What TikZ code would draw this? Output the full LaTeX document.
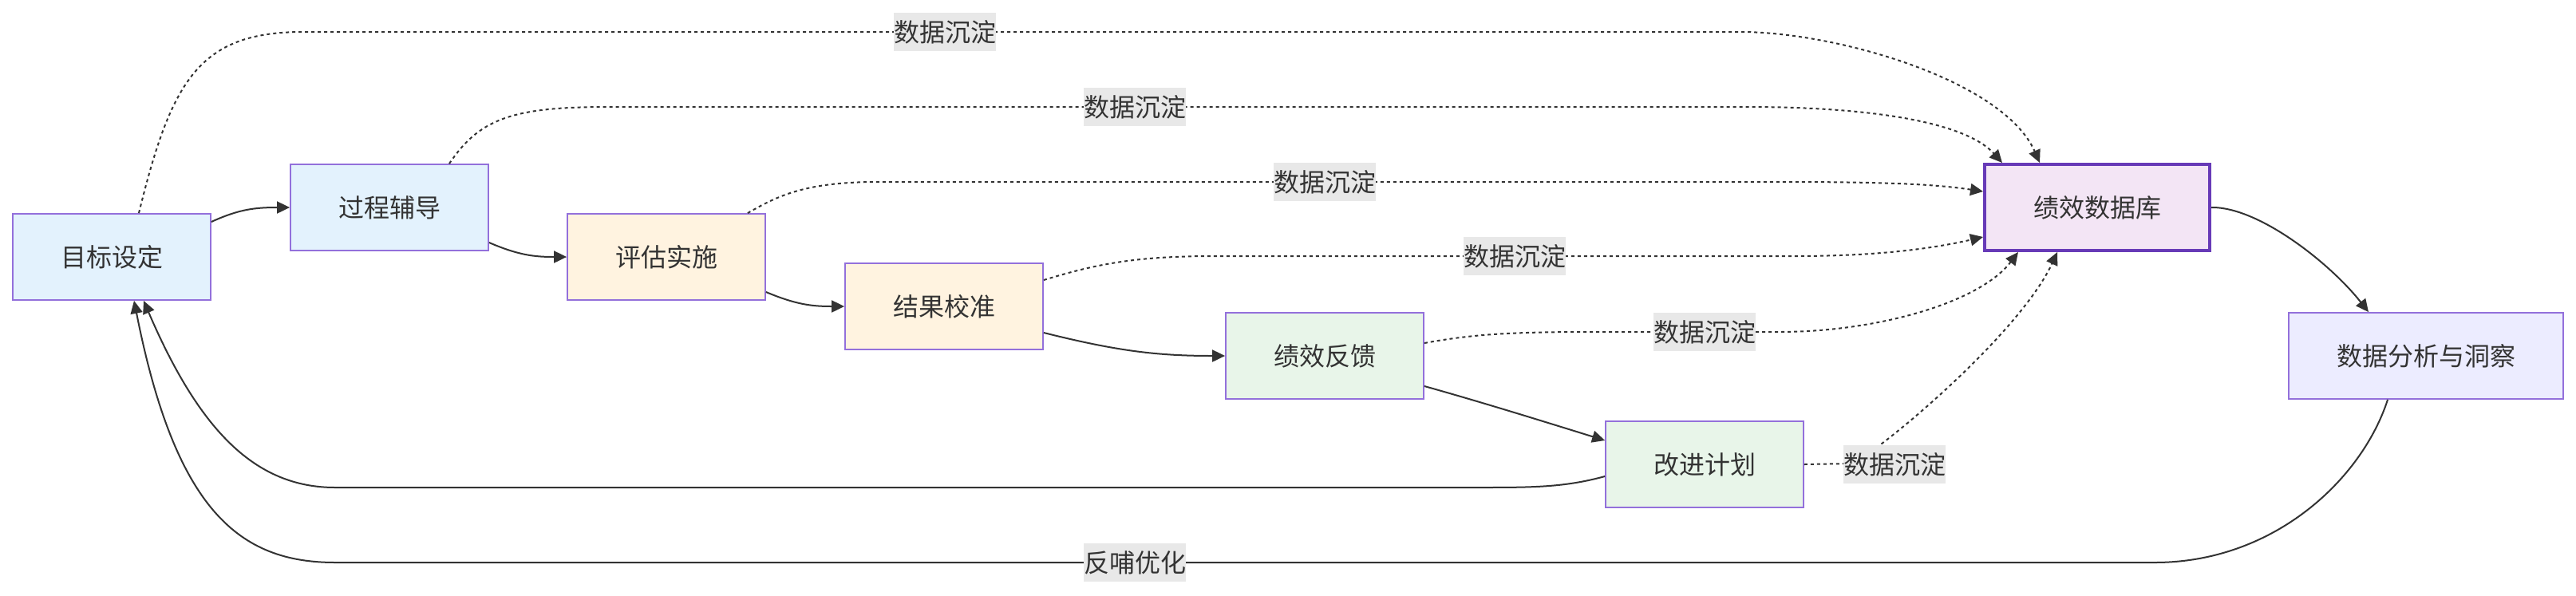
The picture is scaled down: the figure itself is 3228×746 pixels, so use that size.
\documentclass[tikz,border=0pt]{standalone}
\usepackage{fontspec}
\usepackage{tikz}
\usetikzlibrary{arrows.meta}
\newfontfamily\cjk{Noto Sans CJK SC}
\definecolor{boxline}{RGB}{147,112,219}
\definecolor{dbline}{RGB}{103,58,183}
\definecolor{planfill}{RGB}{227,242,253}
\definecolor{runfill}{RGB}{255,243,224}
\definecolor{fixfill}{RGB}{232,245,233}
\definecolor{dbfill}{RGB}{243,229,245}
\definecolor{anafill}{RGB}{236,236,255}
\definecolor{ink}{RGB}{51,51,51}
\definecolor{lblbg}{RGB}{232,232,232}

\begin{document}
\begin{tikzpicture}[x=0.5pt, y=-0.5pt,
  font={\cjk\fontsize{16pt}{19pt}\selectfont},
  stage/.style={draw=boxline, line width=0.9pt, minimum width=124pt,
    minimum height=54pt, inner sep=0pt, text=ink},
  flow/.style={draw=ink, line width=1pt, -{Triangle[length=8pt,width=7.5pt]}},
  sink/.style={flow, dash pattern=on 2pt off 2pt},
  lbl/.style={fill=lblbg, inner xsep=0pt, inner ysep=0pt,
    minimum height=24pt, text=ink}]
  \useasboundingbox (0,0) rectangle (3228,746);
  \node[stage, fill=planfill] (goal) at (140,322) {目标设定};
  \node[stage, fill=planfill] (coach) at (488,260) {过程辅导};
  \node[stage, fill=runfill] (eval) at (835,322) {评估实施};
  \node[stage, fill=runfill] (result) at (1183,384) {结果校准};
  \node[stage, fill=fixfill] (feedback) at (1660,446) {绩效反馈};
  \node[stage, fill=fixfill] (plan) at (2136,582) {改进计划};
  \node[stage, fill=dbfill, draw=dbline, line width=2pt, minimum width=141pt] (db) at (2628,260) {绩效数据库};
  \node[stage, fill=anafill, minimum width=172pt] (ana) at (3040,446) {数据分析与洞察};

  \draw[flow] ([yshift=22pt]goal.east) .. controls (300,262) and (320,260) .. (coach.west);
  \draw[flow] ([yshift=-22pt]coach.east) .. controls (650,320) and (670,322) .. (eval.west);
  \draw[flow] ([yshift=-22pt]eval.east) .. controls (998,382) and (1018,384) .. (result.west);
  \draw[flow] ([yshift=-16.5pt]result.east) .. controls (1400,440) and (1450,446) .. (feedback.west);
  \draw[flow] ([yshift=-19pt]feedback.east) .. controls (1860,505) and (1940,530) .. ([yshift=15pt]plan.west);
  \draw[flow] ([yshift=-7.5pt]plan.west) .. controls (1960,611) and (1920,611) .. (1850,611)
        -- (420,611) .. controls (320,611) and (250,540) .. ([xshift=20pt]goal.south);
  \draw[flow] ([xshift=-24pt]ana.south) .. controls (2960,600) and (2850,705) .. (2700,705)
        -- (420,705) .. controls (300,705) and (220,640) .. ([xshift=14pt]goal.south);
  \draw[flow] (db.east) .. controls (2830,259) and (2920,330) .. ([xshift=-36pt]ana.north);

  \draw[sink] ([xshift=17pt]goal.north) .. controls (215,100) and (250,40) .. (380,40)
        -- (2181,40) .. controls (2300,40) and (2510,100) .. ([xshift=-36pt]db.north);
  \draw[sink] ([xshift=37.5pt]coach.north) .. controls (600,150) and (640,134) .. (760,134)
        -- (2191,134) .. controls (2330,134) and (2460,150) .. ([xshift=-59.5pt]db.north);
  \draw[sink] ([xshift=-11.5pt]eval.north east) .. controls (975,245) and (1010,228) .. (1100,228)
        -- (2229,228) .. controls (2350,228) and (2420,230) .. ([yshift=10pt]db.west);
  \draw[sink] ([yshift=16.5pt]result.east) .. controls (1370,332) and (1420,321) .. (1520,321)
        -- (2250,321) .. controls (2350,321) and (2420,312) .. ([yshift=-18.5pt]db.west);
  \draw[sink] ([yshift=8pt]feedback.east) .. controls (1850,418) and (1900,416) .. (2000,416)
        -- (2230,416) .. controls (2350,416) and (2480,380) .. ([xshift=-49.5pt]db.south);
  \draw[sink] (plan.east) -- (2320,581) .. controls (2350,570) and (2530,420) .. ([xshift=-25pt]db.south);

  \node[lbl] (sink1) at (1184,40) {数据沉淀};
  \node[lbl] (sink2) at (1422,134) {数据沉淀};
  \node[lbl] (sink3) at (1660,228) {数据沉淀};
  \node[lbl] (sink4) at (1898,321) {数据沉淀};
  \node[lbl] (sink5) at (2136,416) {数据沉淀};
  \node[lbl] (sink6) at (2374,582) {数据沉淀};
  \node[lbl] (back) at (1422,705) {反哺优化};
\end{tikzpicture}
\end{document}
